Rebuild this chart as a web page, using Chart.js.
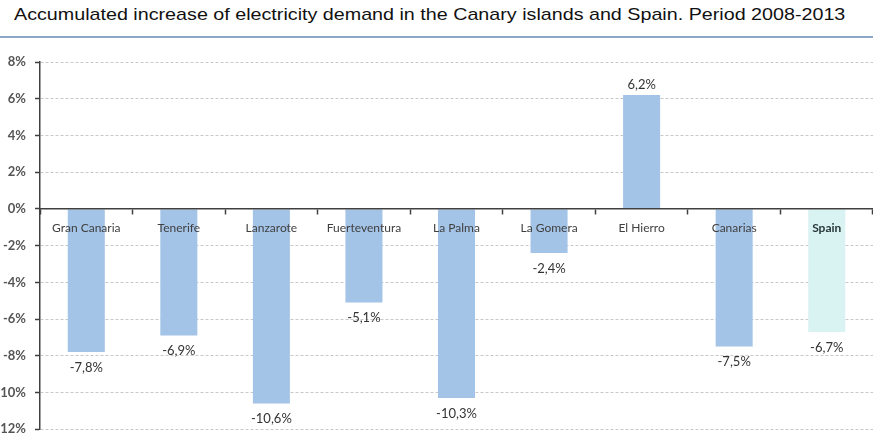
<!DOCTYPE html>
<html>
<head>
<meta charset="utf-8">
<script src="https://cdn.jsdelivr.net/npm/chart.js@4.4.4/dist/chart.umd.min.js"></script>
<style>
html, body { margin: 0; padding: 0; background: #fff; overflow: hidden; }
#wrap { position: relative; width: 873px; height: 436px; overflow: hidden; }
#title { position: absolute; left: 14px; top: 5px; font: 17px "Liberation Sans", Arial, sans-serif; color: #111; white-space: nowrap; transform-origin: 0 0; }
#rule { position: absolute; left: 0; top: 36px; width: 873px; height: 2px; background: #8ba8c7; }
canvas { position: absolute; left: -12px; top: 0; }
</style>
</head>
<body>
<div id="wrap">
  <div id="title">Accumulated increase of electricity demand in the Canary islands and Spain. Period 2008-2013</div>
  <div id="rule"></div>
  <canvas id="chart" width="885" height="446"></canvas>
</div>
<script>
const categories = ['Gran Canaria', 'Tenerife', 'Lanzarote', 'Fuerteventura', 'La Palma', 'La Gomera', 'El Hierro', 'Canarias', 'Spain'];
const demandChange = [-7.8, -6.9, -10.6, -5.1, -10.3, -2.4, 6.2, -7.5, -6.7];
const barColors = ['#a3c3e7', '#a3c3e7', '#a3c3e7', '#a3c3e7', '#a3c3e7', '#a3c3e7', '#a3c3e7', '#a3c3e7', '#d9f3f2'];
const yMin = -12;
const yMax = 8;
const yStep = 2;

// stretch title to the width it has in the original
const titleEl = document.getElementById('title');
titleEl.style.transform = 'scaleX(' + (831 / titleEl.offsetWidth) + ')';

// labels under / over each bar, with comma decimals like the original
const valueLabels = {
    id: 'valueLabels',
    afterDatasetsDraw(chart) {
        const ctx = chart.ctx;
        const meta = chart.getDatasetMeta(0);
        ctx.save();
        ctx.font = '13px Lato';
        ctx.fillStyle = '#333333';
        ctx.textAlign = 'center';
        meta.data.forEach((bar, i) => {
            const v = demandChange[i];
            const txt = v.toFixed(1).replace('.', ',') + '%';
            if (v < 0) {
                ctx.textBaseline = 'top';
                ctx.fillText(txt, bar.x, bar.y + 9);
            } else {
                ctx.textBaseline = 'bottom';
                ctx.fillText(txt, bar.x, bar.y - 4);
            }
        });
        ctx.restore();
    }
};

new Chart(document.getElementById('chart'), {
    type: 'bar',
    data: {
        labels: categories,
        datasets: [{
            data: demandChange,
            backgroundColor: barColors,
            borderWidth: 0,
            barPercentage: 0.4,
            categoryPercentage: 1.0
        }]
    },
    options: {
        responsive: false,
        animation: false,
        layout: { padding: { top: 62, bottom: 6, left: 0, right: 0 } },
        plugins: {
            legend: { display: false },
            tooltip: { enabled: false }
        },
        scales: {
            x: {
                position: { y: 0 },
                grid: {
                    z: 1,
                    drawOnChartArea: false,
                    drawTicks: true,
                    tickLength: 5,
                    tickColor: '#404040',
                    tickWidth: 1.5
                },
                border: { display: true, color: '#404040', width: 1.5, z: 1 },
                ticks: {
                    z: 1,
                    padding: 7,
                    color: ctx => ctx.index === 8 ? '#283838' : '#404040',
                    font: ctx => ({ family: 'Lato', size: 12, weight: ctx.index === 8 ? 'bold' : 'normal' }),
                    maxRotation: 0,
                    autoSkip: false
                }
            },
            y: {
                min: yMin,
                max: yMax,
                afterFit(scale) { scale.width = 52; },
                grid: {
                    color: ctx => ctx.tick && ctx.tick.value === 0 ? 'transparent' : '#c8c8c8',
                    lineWidth: 1,
                    tickLength: 5,
                    tickColor: '#404040',
                    tickWidth: 1.5
                },
                border: { display: true, color: '#404040', width: 1.5, dash: [3, 2] },
                ticks: {
                    stepSize: yStep,
                    padding: 9,
                    color: '#555555',
                    font: { family: 'Lato', size: 13, weight: 'bold' },
                    callback: v => v + '%'
                }
            }
        }
    },
    plugins: [valueLabels]
});
</script>
</body>
</html>
